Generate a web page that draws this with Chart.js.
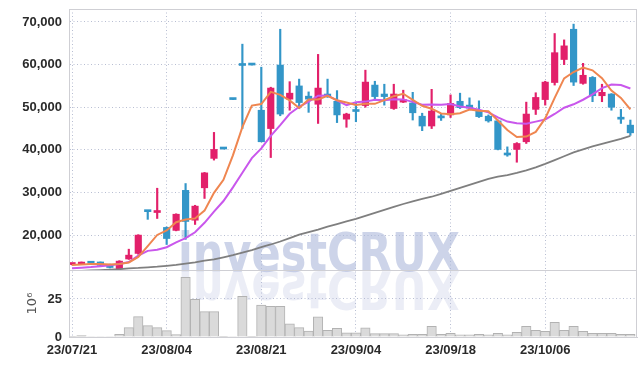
<!DOCTYPE html>
<html>
<head>
<meta charset="utf-8">
<script src="https://cdn.jsdelivr.net/npm/chart.js@4"></script>
<style>
  html, body { margin: 0; padding: 0; background: #fff; }
</style>
</head>
<body>
<canvas id="chart" width="641" height="366"></canvas>
<script>
// trading days shown on the chart
const dates = ['23/07/21','23/07/24','23/07/25','23/07/26','23/07/27','23/07/28','23/07/31','23/08/01','23/08/02','23/08/03',
  '23/08/04','23/08/07','23/08/08','23/08/09','23/08/10','23/08/11','23/08/14','23/08/16','23/08/17','23/08/18',
  '23/08/21','23/08/22','23/08/23','23/08/24','23/08/25','23/08/28','23/08/29','23/08/30','23/08/31','23/09/01',
  '23/09/04','23/09/05','23/09/06','23/09/07','23/09/08','23/09/11','23/09/12','23/09/13','23/09/14','23/09/15',
  '23/09/18','23/09/19','23/09/20','23/09/21','23/09/22','23/09/25','23/09/26','23/09/27','23/10/04','23/10/05',
  '23/10/06','23/10/10','23/10/11','23/10/12','23/10/13','23/10/16','23/10/17','23/10/18','23/10/19','23/10/20'];

const opens = [13100,13200,13500,13700,13100,12100,14400,15700,25600,25300,21800,21100,30500,23500,31100,38000,40300,52000,60000,60000,
  49300,45000,59900,51900,55000,52600,50700,53100,51400,47200,49300,50400,55200,53100,49700,51200,51000,47900,45600,47700,
  48200,51400,50500,49100,47900,46800,39000,40100,41900,49500,51800,55800,61200,68300,55600,57000,52700,53100,47400,45800];
const closes = [13200,13500,13400,12900,12400,13900,15300,20000,25500,25500,19200,24900,23200,26800,34600,40100,40200,51800,59800,59900,
  41900,54500,48400,53300,51100,51900,54500,52500,48200,48400,49000,55900,52500,52500,53100,51800,48700,45600,49100,47500,
  50900,49900,49800,47800,46800,40100,38800,41500,48400,52300,55900,62800,64400,55900,57500,52700,53500,50000,47200,44000];
const highs = [13300,13700,13700,13700,13200,14000,16700,20100,25700,31000,21900,25000,32100,27000,34700,44100,40300,52000,64800,60000,
  59400,54700,68300,56000,56600,53600,62400,56600,53900,48600,50900,58700,56100,55400,55400,54000,53500,48600,54200,48400,
  52900,53300,52200,51500,48200,47000,40700,41700,51200,53400,56100,67300,65800,69500,60300,57200,55400,53200,49500,47000];
const lows = [13000,13100,13200,12600,12300,12000,14300,15500,23700,23900,17800,21000,19000,22500,28600,37600,40200,51800,45000,59900,
  41900,38200,48000,49300,49700,48800,46200,52300,46400,45300,46600,50000,52000,50500,49500,51100,47000,44500,45000,46900,
  47600,49700,49500,47600,46500,40000,38500,37100,41500,48300,50500,55200,60000,55100,55400,51300,51300,49300,46200,43400];

// moving averages
const ma5 = [13000,13100,13200,13200,13080,13220,13580,14900,17420,20040,21100,23020,23660,23920,25740,29920,32980,38720,45320,50380,
  50740,53600,52900,51600,49840,51840,51840,52660,51640,51100,50520,50800,50800,51660,52600,53160,51720,50340,49660,48540,
  48360,48600,49440,49180,49040,46880,44660,43000,43120,44220,47380,52180,56760,58260,59300,58660,56800,53920,52180,49480];
const ma10 = [12200,12350,12500,12700,12900,13200,13700,15200,16300,16560,17160,18300,19280,20670,22890,25510,28000,31190,34620,38060,
  40330,43290,45810,48460,50110,51290,52720,52780,51620,50470,51180,51320,51730,51650,51850,51840,51260,50570,50660,50570,
  50760,50160,49890,49420,48790,47620,46630,46220,46150,46630,47130,48420,49880,50690,51760,53020,54490,55340,55220,54390];
const maLong = [11550,11600,11700,11800,11900,12000,12200,12300,12450,12600,12800,13000,13300,13600,14000,14300,14800,15300,15900,16500,
  17200,17800,18500,19300,20100,20700,21300,22000,22600,23200,23800,24500,25200,25900,26600,27300,27900,28500,29000,29700,
  30400,31100,31800,32500,33200,33700,34100,34600,35200,35900,36700,37600,38500,39400,40100,40800,41400,42000,42600,43300];

// volume, in millions
const volumes = [0.5,0.9,0.3,0.3,0.3,1.8,6.2,13.4,7.5,6.2,4.2,1.6,39.2,24.8,16.7,16.7,0.1,0.3,26.8,0.1,
  21,20.1,20.1,8.6,6.2,3.9,13.3,4.4,5.7,2.8,2.8,6.1,2.2,2.2,2.2,1.5,1.8,1.8,7.0,1.8,
  2.4,1.5,1.5,1.8,1.5,2.4,1.5,3.1,7.0,4.4,3.7,9.6,4.4,7.0,3.7,2.4,2.4,2.4,1.8,1.8];

const priceTicks = [20000, 30000, 40000, 50000, 60000, 70000];
const volumeTicks = [0, 25];
const dateTicks = [0, 10, 20, 30, 40, 50];

const UP = '#e2206a';
const DOWN = '#3396c8';
const GRID = 'rgba(160,168,195,0.75)';
const LINE = '#cfcfd4';
const tickFont = { family: '"Liberation Sans", Arial, sans-serif', size: 13, weight: 'bold' };
const candleColor = ctx => closes[ctx.dataIndex] >= opens[ctx.dataIndex] ? UP : DOWN;

// no extra room for label overflow, the area is placed by the padding alone
const noOverflow = axis => {
  axis.paddingTop = 0; axis.paddingBottom = 0; axis.paddingLeft = 0; axis.paddingRight = 0;
};

const frame = {
  id: 'frame',
  beforeDatasetsDraw(chart) {
    const { ctx, chartArea: a, scales } = chart;
    const text = 'investCRUX';
    const base = scales.y.bottom + 1;
    ctx.save();
    ctx.beginPath();
    ctx.rect(a.left, a.top, a.right - a.left, a.bottom - a.top);
    ctx.clip();
    ctx.font = 'bold 52px "DejaVu Sans"';
    const w = ctx.measureText(text).width;
    ctx.translate(178, base);
    ctx.scale(282 / w, 1.03);
    ctx.fillStyle = 'rgba(175,185,220,0.62)';
    ctx.fillText(text, 0, 0);
    ctx.scale(1, -1);
    ctx.fillStyle = 'rgba(175,185,220,0.25)';
    ctx.fillText(text, 0, 0);
    ctx.restore();
  },
  afterDraw(chart) {
    const { ctx, chartArea: a, scales } = chart;
    ctx.save();
    ctx.strokeStyle = LINE;
    ctx.lineWidth = 1;
    ctx.strokeRect(a.left + 0.5, a.top + 0.5, a.right - a.left - 1, a.bottom - a.top);
    const sep = Math.round(scales.y.bottom) + 0.5;
    ctx.beginPath();
    ctx.moveTo(a.left, sep);
    ctx.lineTo(a.right, sep);
    ctx.stroke();
    ctx.restore();
  }
};

new Chart(document.getElementById('chart'), {
  type: 'bar',
  data: {
    datasets: [
      {
        type: 'line', label: 'MA5', data: dates.map((d, i) => ({ x: i, y: ma5[i] })),
        borderColor: '#ef8650', borderWidth: 2, pointRadius: 0, tension: 0, yAxisID: 'y', order: 0
      },
      {
        type: 'line', label: 'MA10', data: dates.map((d, i) => ({ x: i, y: ma10[i] })),
        borderColor: '#c957ec', borderWidth: 2, pointRadius: 0, tension: 0, yAxisID: 'y', order: 1
      },
      {
        type: 'line', label: 'MA long', data: dates.map((d, i) => ({ x: i, y: maLong[i] })),
        borderColor: '#7f7f7f', borderWidth: 1.8, pointRadius: 0, tension: 0, yAxisID: 'y', order: 2
      },
      {
        label: 'body', data: dates.map((d, i) => ({ x: i, y: [opens[i], closes[i]] })),
        backgroundColor: candleColor, barThickness: 6.5, minBarLength: 2, grouped: false, yAxisID: 'y', order: 3
      },
      {
        label: 'wick', data: dates.map((d, i) => ({ x: i, y: [lows[i], highs[i]] })),
        backgroundColor: candleColor, barThickness: 1.5, grouped: false, yAxisID: 'y', order: 4
      },
      {
        label: 'volume', data: dates.map((d, i) => ({ x: i, y: volumes[i] })),
        backgroundColor: '#dadada', borderColor: '#b2b2b2', borderWidth: 1,
        barPercentage: 1, categoryPercentage: 1, grouped: false, yAxisID: 'yv', order: 5
      }
    ]
  },
  options: {
    responsive: false,
    animation: false,
    layout: { padding: { top: 9, right: 4, left: 0, bottom: 0 } },
    plugins: { legend: { display: false }, tooltip: { enabled: false } },
    scales: {
      x: {
        type: 'linear', min: -0.32, max: 59.7, offset: false,
        afterBuildTicks: axis => { axis.ticks = dateTicks.map(v => ({ value: v })); },
        afterFit: axis => { axis.height = 29; noOverflow(axis); },
        ticks: { callback: v => dates[v], font: tickFont, color: '#2a2a2a', padding: 6, maxRotation: 0, autoSkip: false },
        grid: { color: GRID, drawTicks: false, offset: false },
        border: { color: LINE, dash: [1, 2.5] }
      },
      yv: {
        position: 'left', stack: 'panels', stackWeight: 1, min: 0, max: 44,
        afterBuildTicks: axis => { axis.ticks = volumeTicks.map(v => ({ value: v })); },
        afterFit: axis => { axis.width = 69; noOverflow(axis); },
        ticks: { font: tickFont, color: '#2a2a2a', padding: 7 },
        grid: { color: GRID, drawTicks: false },
        border: { color: LINE, dash: [1, 2.5] },
        title: { display: true, text: '10⁶', color: '#555', font: { family: '"DejaVu Sans", sans-serif', size: 13 }, padding: { top: 25, bottom: 0 } }
      },
      y: {
        position: 'left', stack: 'panels', stackWeight: 3.9, min: 11800, max: 73050,
        afterBuildTicks: axis => { axis.ticks = priceTicks.map(v => ({ value: v })); },
        afterFit: axis => { axis.width = 69; noOverflow(axis); },
        ticks: { callback: v => v.toLocaleString('en-US'), font: tickFont, color: '#2a2a2a', padding: 7 },
        grid: { color: GRID, drawTicks: false },
        border: { color: LINE, dash: [1, 2.5] }
      }
    }
  },
  plugins: [frame]
});
</script>
</body>
</html>
